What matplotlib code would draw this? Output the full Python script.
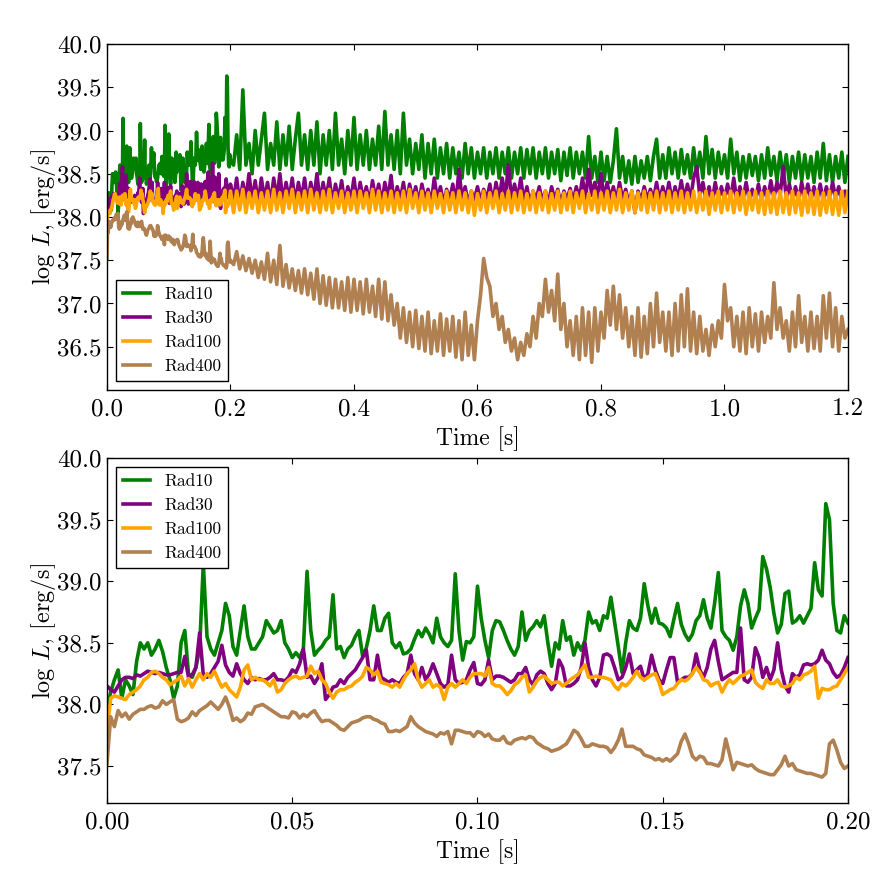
import numpy as np
import matplotlib
matplotlib.use("Agg")
import matplotlib.pyplot as plt

plt.rcParams['font.family'] = 'serif'
plt.rcParams['font.serif'] = ['cmr10']
plt.rcParams['mathtext.fontset'] = 'cm'
plt.rcParams['axes.formatter.use_mathtext'] = True
plt.rcParams['xtick.direction'] = 'in'
plt.rcParams['ytick.direction'] = 'in'
plt.rcParams['xtick.top'] = True
plt.rcParams['ytick.right'] = True
plt.rcParams['xtick.major.size'] = 4.5
plt.rcParams['ytick.major.size'] = 4.5
plt.rcParams['xtick.major.pad'] = 6
plt.rcParams['ytick.major.pad'] = 4

labels = ['Rad10', 'Rad30', 'Rad100', 'Rad400']
colors = ['green', 'purple', 'orange', '#b08050']

# first 0.2 s, sampled every 1 ms
green_fine = [
    37.95, 38.1, 38.2, 38.28, 38.05, 38.2, 38.15, 38.08, 38.35, 38.5,
    38.45, 38.5, 38.4, 38.45, 38.52, 38.43, 38.3, 38.2, 38.05, 38.15,
    38.5, 38.6, 38.25, 38.22, 38.3, 38.45, 39.14, 38.55, 38.45, 38.4,
    38.5, 38.6, 38.82, 38.72, 38.47, 38.4, 38.6, 38.8, 38.55, 38.45,
    38.45, 38.5, 38.55, 38.68, 38.63, 38.58, 38.6, 38.68, 38.5, 38.45,
    38.38, 38.42, 38.38, 38.45, 39.08, 38.6, 38.4, 38.44, 38.47, 38.52,
    38.55, 38.89, 38.45, 38.47, 38.38, 38.45, 38.48, 38.55, 38.6, 38.39,
    38.46, 38.6, 38.8, 38.6, 38.6, 38.7, 38.74, 38.5, 38.46, 38.5,
    38.41, 38.42, 38.45, 38.53, 38.6, 38.55, 38.62, 38.57, 38.5, 38.7,
    38.55, 38.5, 38.47, 38.52, 39.06, 38.6, 38.36, 38.51, 38.5, 38.55,
    38.96, 38.7, 38.52, 38.38, 38.6, 38.68, 38.67, 38.6, 38.52, 38.45,
    38.4, 38.47, 38.75, 38.52, 38.6, 38.63, 38.68, 38.63, 38.72, 38.5,
    38.31, 38.5, 38.45, 38.68, 38.52, 38.55, 38.4, 38.5, 38.44, 38.52,
    38.75, 38.66, 38.68, 38.6, 38.72, 38.7, 38.87, 38.67, 38.47, 38.26,
    38.5, 38.68, 38.62, 38.6, 38.7, 38.98, 38.8, 38.66, 38.78, 38.66,
    38.65, 38.62, 38.55, 38.69, 38.82, 38.65, 38.57, 38.52, 38.57, 38.68,
    38.72, 38.85, 38.7, 38.62, 38.82, 39.07, 38.6, 38.55, 38.52, 38.44,
    38.55, 38.8, 38.93, 38.82, 38.62, 38.7, 38.77, 39.2, 39.1, 38.95,
    38.74, 38.58, 38.65, 38.9, 38.92, 38.66, 38.68, 38.72, 38.66, 38.72,
    38.78, 39.15, 38.93, 38.88, 39.63, 39.5, 38.82, 38.6, 38.58, 38.72,
    38.66]
purple_fine = [
    38.15, 38.12, 38.1, 38.15, 38.2, 38.22, 38.22, 38.21, 38.24, 38.23,
    38.25, 38.27, 38.26, 38.25, 38.26, 38.25, 38.24, 38.24, 38.25, 38.26,
    38.26, 38.39, 38.22, 38.24, 38.3, 38.58, 38.24, 38.22, 38.25, 38.3,
    38.35, 38.48, 38.32, 38.26, 38.23, 38.33, 38.25, 38.2, 38.17, 38.22,
    38.2, 38.21, 38.2, 38.2, 38.22, 38.25, 38.2, 38.2, 38.19, 38.22,
    38.28, 38.26, 38.33, 38.45, 38.22, 38.23, 38.17, 38.22, 38.33, 38.04,
    38.08, 38.14, 38.15, 38.2, 38.17, 38.22, 38.25, 38.28, 38.33, 38.38,
    38.44, 38.2, 38.2, 38.4, 38.22, 38.2, 38.18, 38.2, 38.18, 38.17,
    38.22, 38.25, 38.4, 38.25, 38.2, 38.3, 38.2, 38.25, 38.33, 38.25,
    38.17, 38.14, 38.16, 38.4, 38.2, 38.17, 38.18, 38.2, 38.28, 38.34,
    38.17, 38.16, 38.2, 38.36, 38.2, 38.23, 38.23, 38.22, 38.2, 38.18,
    38.2, 38.25, 38.25, 38.3, 38.2, 38.16, 38.24, 38.27, 38.25, 38.17,
    38.12, 38.17, 38.36, 38.3, 38.15, 38.15, 38.17, 38.2, 38.3, 38.5,
    38.3, 38.2, 38.15, 38.22, 38.4, 38.41, 38.39, 38.3, 38.2, 38.22,
    38.3, 38.41, 38.25, 38.28, 38.31, 38.2, 38.25, 38.4, 38.28, 38.2,
    38.17, 38.28, 38.38, 38.38, 38.18, 38.2, 38.22, 38.22, 38.25, 38.41,
    38.28, 38.22, 38.3, 38.45, 38.52, 38.35, 38.2, 38.22, 38.24, 38.26,
    38.26, 38.62, 38.2, 38.18, 38.22, 38.46, 38.38, 38.22, 38.3, 38.2,
    38.28, 38.5, 38.28, 38.15, 38.1, 38.25, 38.22, 38.24, 38.32, 38.33,
    38.32, 38.33, 38.36, 38.44, 38.36, 38.33, 38.26, 38.22, 38.24, 38.3,
    38.38]
orange_fine = [
    37.78, 38.05, 38.07, 38.06, 38.05, 38.04, 38.08, 38.1, 38.12, 38.15,
    38.2, 38.22, 38.26, 38.27, 38.25, 38.22, 38.2, 38.16, 38.18, 38.2,
    38.23, 38.15, 38.21, 38.14, 38.2, 38.25, 38.2, 38.25, 38.22, 38.27,
    38.2, 38.14, 38.17, 38.12, 38.09, 38.06, 38.14, 38.28, 38.32, 38.2,
    38.22, 38.2, 38.2, 38.18, 38.15, 38.2, 38.1, 38.12, 38.17, 38.2,
    38.22, 38.23, 38.21, 38.22, 38.23, 38.31, 38.25, 38.27, 38.2, 38.17,
    38.1, 38.05, 38.1, 38.12, 38.12, 38.14, 38.15, 38.18, 38.2, 38.23,
    38.3, 38.28, 38.24, 38.27, 38.18, 38.17, 38.16, 38.14, 38.17, 38.14,
    38.2, 38.25, 38.28, 38.33, 38.2, 38.14, 38.17, 38.2, 38.14, 38.16,
    38.14, 38.04, 38.14, 38.17, 38.14, 38.17, 38.2, 38.17, 38.22, 38.25,
    38.25, 38.25, 38.23, 38.3, 38.17, 38.15, 38.15, 38.12, 38.08, 38.11,
    38.16, 38.18, 38.22, 38.24, 38.1, 38.14, 38.19, 38.22, 38.23, 38.2,
    38.17, 38.18, 38.18, 38.15, 38.17, 38.2, 38.22, 38.24, 38.28, 38.32,
    38.22, 38.22, 38.23, 38.22, 38.22, 38.21, 38.2, 38.15, 38.12, 38.17,
    38.15, 38.18, 38.22, 38.27, 38.22, 38.2, 38.22, 38.24, 38.25, 38.18,
    38.08, 38.1, 38.12, 38.13, 38.17, 38.2, 38.19, 38.21, 38.25, 38.3,
    38.26, 38.2, 38.19, 38.15, 38.17, 38.18, 38.1, 38.16, 38.2, 38.17,
    38.2, 38.23, 38.24, 38.26, 38.28, 38.18, 38.15, 38.13, 38.2, 38.17,
    38.17, 38.2, 38.15, 38.14, 38.15, 38.17, 38.22, 38.2, 38.24, 38.25,
    38.27, 38.31, 38.05, 38.13, 38.12, 38.12, 38.14, 38.15, 38.2, 38.25,
    38.3]
brown_fine = [
    37.52, 37.9, 37.82, 37.95, 37.9, 37.93, 37.88, 37.92, 37.94, 37.96,
    37.96, 37.98, 37.99, 37.97, 37.98, 38.03, 38.0, 38.02, 38.04, 37.88,
    37.86, 37.87, 37.89, 37.94, 37.91, 37.95, 37.97, 37.99, 38.02, 37.99,
    37.96, 38.0, 38.06, 37.98, 37.87, 37.89, 37.86, 37.88, 37.93, 37.92,
    37.98, 37.99, 38.0, 37.98, 37.96, 37.94, 37.92, 37.9, 37.9, 37.89,
    37.94, 37.93, 37.89, 37.92, 37.9, 37.93, 37.95, 37.9, 37.86, 37.87,
    37.87, 37.85, 37.83, 37.8, 37.79, 37.82, 37.85, 37.86, 37.87, 37.89,
    37.9, 37.9, 37.88, 37.87, 37.85, 37.84, 37.78, 37.78, 37.79, 37.78,
    37.8, 37.82, 37.9, 37.85, 37.82, 37.8, 37.78, 37.77, 37.76, 37.74,
    37.77, 37.76, 37.78, 37.68, 37.79, 37.79, 37.78, 37.77, 37.77, 37.74,
    37.78, 37.77, 37.74, 37.76, 37.72, 37.71, 37.71, 37.74, 37.69, 37.68,
    37.71, 37.72, 37.73, 37.72, 37.74, 37.73, 37.69, 37.67, 37.65, 37.64,
    37.62, 37.63, 37.64, 37.66, 37.68, 37.73, 37.79, 37.77, 37.72, 37.66,
    37.66, 37.68, 37.67, 37.66, 37.66, 37.65, 37.61, 37.65, 37.71, 37.8,
    37.66, 37.66, 37.66, 37.64, 37.63, 37.59, 37.58, 37.57, 37.55, 37.56,
    37.54, 37.56, 37.54, 37.57, 37.6, 37.7, 37.76, 37.68, 37.58, 37.55,
    37.58, 37.57, 37.52, 37.52, 37.51, 37.5, 37.55, 37.72, 37.6, 37.47,
    37.53, 37.52, 37.51, 37.5, 37.51, 37.48, 37.46, 37.45, 37.44, 37.43,
    37.43, 37.47, 37.51, 37.58, 37.5, 37.52, 37.47, 37.46, 37.45, 37.44,
    37.44, 37.43, 37.42, 37.41, 37.44, 37.68, 37.71, 37.63, 37.53, 37.48,
    37.5]

# 0.205 s to 1.2 s, sampled every 5 ms
green_coarse = [
    38.6, 38.95, 38.55, 39.47, 38.6, 38.85, 38.5, 39.0, 38.6, 38.9,
    39.2, 38.55, 38.85, 38.6, 39.1, 38.55, 38.95, 38.6, 39.05, 38.55,
    38.9, 39.2, 38.6, 38.95, 38.55, 39.0, 38.6, 39.1, 38.5, 38.95,
    38.6, 39.0, 38.55, 39.2, 38.6, 38.9, 38.5, 39.0, 38.6, 39.15,
    38.55, 38.95, 38.6, 39.0, 38.55, 38.9, 38.6, 39.05, 38.55, 39.22,
    38.6, 38.95, 38.55, 39.0, 38.5, 39.2, 38.6, 38.9, 38.5, 38.85,
    38.55, 38.95, 38.45, 38.85, 38.5, 38.9, 38.45, 38.8, 38.5, 38.85,
    38.45, 38.8, 38.5, 38.75, 38.45, 38.85, 38.5, 38.8, 38.45, 38.75,
    38.5, 38.8, 38.45, 38.75, 38.5, 38.8, 38.45, 38.75, 38.5, 38.8,
    38.45, 38.75, 38.5, 38.8, 38.45, 38.78, 38.5, 38.8, 38.45, 38.75,
    38.5, 38.8, 38.45, 38.75, 38.5, 38.78, 38.42, 38.75, 38.48, 38.8,
    38.45, 38.75, 38.5, 38.75, 38.45, 38.93, 38.45, 38.7, 38.4, 38.75,
    38.42, 38.7, 38.4, 38.65, 39.02, 38.45, 38.7, 38.4, 38.65, 38.38,
    38.7, 38.4, 38.65, 38.45, 38.7, 38.42, 38.7, 38.9, 38.45, 38.72,
    38.45, 38.8, 38.5, 38.75, 38.45, 38.78, 38.5, 38.72, 38.45, 38.8,
    38.5, 38.75, 38.45, 38.93, 38.5, 38.78, 38.45, 38.75, 38.5, 38.72,
    38.45, 38.9, 38.5, 38.75, 38.42, 38.7, 38.45, 38.72, 38.48, 38.7,
    38.42, 38.72, 38.45, 38.8, 38.48, 38.7, 38.42, 38.75, 38.45, 38.72,
    38.4, 38.7, 38.45, 38.75, 38.42, 38.72, 38.45, 38.7, 38.4, 38.75,
    38.45, 38.85, 38.42, 38.72, 38.4, 38.7, 38.45, 38.75, 38.4, 38.7]
purple_coarse = [
    38.2, 38.45, 38.15, 38.4, 38.2, 38.5, 38.18, 38.42, 38.15, 38.45,
    38.2, 38.4, 38.15, 38.45, 38.2, 38.5, 38.17, 38.4, 38.2, 38.45,
    38.15, 38.4, 38.2, 38.45, 38.15, 38.4, 38.2, 38.5, 38.17, 38.4,
    38.2, 38.45, 38.15, 38.38, 38.2, 38.42, 38.15, 38.35, 38.2, 38.45,
    38.15, 38.4, 38.2, 38.35, 38.15, 38.42, 38.2, 38.38, 38.15, 38.4,
    38.2, 38.48, 38.15, 38.35, 38.2, 38.4, 38.15, 38.38, 38.2, 38.35,
    38.15, 38.38, 38.2, 38.32, 38.15, 38.45, 38.2, 38.35, 38.15, 38.32,
    38.2, 38.38, 38.15, 38.55, 38.2, 38.35, 38.15, 38.3, 38.2, 38.35,
    38.18, 38.32, 38.2, 38.38, 38.15, 38.4, 38.2, 38.45, 38.22, 38.6,
    38.2, 38.38, 38.2, 38.45, 38.18, 38.35, 38.15, 38.3, 38.2, 38.35,
    38.18, 38.3, 38.15, 38.35, 38.2, 38.32, 38.15, 38.3, 38.2, 38.33,
    38.18, 38.35, 38.2, 38.45, 38.2, 38.55, 38.25, 38.4, 38.22, 38.5,
    38.2, 38.4, 38.2, 38.35, 38.18, 38.4, 38.2, 38.32, 38.15, 38.3,
    38.05, 38.3, 38.18, 38.35, 38.2, 38.32, 38.2, 38.4, 38.18, 38.35,
    38.2, 38.4, 38.18, 38.35, 38.2, 38.42, 38.2, 38.38, 38.2, 38.45,
    38.58, 38.25, 38.4, 38.2, 38.35, 38.18, 38.4, 38.2, 38.35, 38.2,
    38.38, 38.2, 38.45, 38.18, 38.35, 38.2, 38.4, 38.2, 38.32, 38.2,
    38.38, 38.18, 38.35, 38.2, 38.42, 38.22, 38.4, 38.25, 38.58, 38.22,
    38.38, 38.2, 38.35, 38.18, 38.4, 38.22, 38.38, 38.2, 38.35, 38.2,
    38.38, 38.18, 38.35, 38.2, 38.4, 38.22, 38.35, 38.18, 38.3, 38.2]
orange_coarse = [
    38.05, 38.3, 38.08, 38.32, 38.05, 38.28, 38.1, 38.3, 38.05, 38.28,
    38.08, 38.3, 38.05, 38.32, 38.08, 38.28, 38.05, 38.3, 38.1, 38.32,
    38.05, 38.28, 38.08, 38.3, 38.05, 38.32, 38.08, 38.28, 38.05, 38.3,
    38.08, 38.32, 38.05, 38.28, 38.1, 38.3, 38.05, 38.28, 38.08, 38.3,
    38.05, 38.3, 38.1, 38.28, 38.05, 38.32, 38.08, 38.3, 38.05, 38.28,
    38.08, 38.3, 38.05, 38.28, 38.08, 38.3, 38.05, 38.32, 38.1, 38.28,
    38.05, 38.3, 38.08, 38.28, 38.05, 38.3, 38.1, 38.27, 38.05, 38.3,
    38.08, 38.28, 38.05, 38.3, 38.08, 38.28, 38.05, 38.3, 38.02, 38.27,
    38.08, 38.3, 38.05, 38.28, 38.1, 38.3, 38.05, 38.27, 38.08, 38.3,
    38.05, 38.28, 38.08, 38.3, 38.05, 38.27, 38.08, 38.3, 38.05, 38.28,
    38.08, 38.3, 38.05, 38.27, 38.08, 38.3, 38.05, 38.28, 38.08, 38.3,
    38.05, 38.28, 38.1, 38.3, 38.05, 38.27, 38.08, 38.3, 38.05, 38.28,
    38.08, 38.3, 38.05, 38.28, 38.08, 38.32, 38.05, 38.28, 38.08, 38.3,
    38.05, 38.28, 38.08, 38.3, 38.05, 38.28, 38.08, 38.3, 38.05, 38.28,
    38.08, 38.3, 38.05, 38.28, 38.08, 38.3, 38.05, 38.28, 38.08, 38.3,
    38.05, 38.28, 38.08, 38.3, 38.03, 38.28, 38.08, 38.3, 38.05, 38.28,
    38.08, 38.3, 38.05, 38.28, 38.08, 38.3, 38.03, 38.28, 38.08, 38.3,
    38.05, 38.28, 38.03, 38.3, 38.05, 38.28, 38.03, 38.3, 38.05, 38.28,
    38.03, 38.3, 38.05, 38.28, 38.02, 38.3, 38.05, 38.28, 38.03, 38.3,
    38.02, 38.28, 38.05, 38.3, 38.03, 38.28, 38.02, 38.3, 38.05, 38.3]
brown_coarse = [
    37.45, 37.6, 37.4, 37.55, 37.38, 37.52, 37.35, 37.5, 37.3, 37.48,
    37.28, 37.58, 37.25, 37.5, 37.22, 37.67, 37.2, 37.45, 37.18, 37.4,
    37.15, 37.38, 37.12, 37.4, 37.1, 37.35, 37.05, 37.4, 37.0, 37.32,
    36.98, 37.3, 36.95, 37.28, 36.95, 37.25, 36.92, 37.3, 36.9, 37.28,
    36.92, 37.25, 36.88, 37.28, 36.9, 37.2, 36.85, 37.28, 36.82, 37.25,
    36.8, 37.1, 36.75, 37.0, 36.6, 36.95, 36.55, 36.9, 36.5, 36.92,
    36.48, 36.85, 36.45, 36.9, 36.42, 36.8, 36.45, 36.88, 36.4, 36.82,
    36.45, 36.85, 36.38, 36.8, 36.35, 36.9, 36.4, 36.75, 36.35, 36.8,
    37.1, 37.52, 37.3, 37.2, 36.85, 37.0, 36.7, 36.85, 36.55, 36.7,
    36.45, 36.6, 36.35, 36.55, 36.4, 36.65, 36.5, 36.85, 36.6, 37.0,
    36.85, 37.28, 36.9, 37.15, 36.8, 37.34, 36.7, 37.0, 36.5, 36.8,
    36.4, 36.85, 36.35, 36.95, 36.4, 36.9, 36.32, 36.95, 36.45, 36.9,
    36.6, 37.15, 36.75, 37.2, 36.7, 37.1, 36.6, 36.95, 36.5, 36.85,
    36.4, 36.95, 36.38, 36.85, 36.42, 37.0, 36.5, 37.12, 36.55, 36.9,
    36.45, 36.9, 36.4, 37.0, 36.45, 37.1, 36.5, 37.17, 36.45, 36.9,
    36.42, 36.85, 36.45, 36.7, 36.4, 36.75, 36.5, 36.8, 36.6, 37.22,
    36.8, 36.95, 36.5, 36.85, 36.45, 36.9, 36.42, 36.95, 36.5, 36.88,
    36.45, 36.9, 36.55, 36.85, 36.6, 37.24, 36.7, 36.95, 36.6, 36.8,
    36.45, 36.9, 36.5, 37.09, 36.55, 36.85, 36.45, 36.9, 36.48, 36.85,
    36.45, 37.09, 36.6, 37.12, 36.5, 36.95, 36.45, 36.85, 36.6, 36.7]

t_fine = np.arange(len(green_fine)) * 0.001
t_coarse = 0.205 + np.arange(len(green_coarse)) * 0.005
t_all = np.concatenate([t_fine, t_coarse])

fine = [green_fine, purple_fine, orange_fine, brown_fine]
coarse = [green_coarse, purple_coarse, orange_coarse, brown_coarse]

fig = plt.figure(figsize=(8.93, 8.93), dpi=100)
ax1 = fig.add_axes([0.1198, 0.5633, 0.8298, 0.3874])
ax2 = fig.add_axes([0.1198, 0.1008, 0.8298, 0.3863])
linew = 2.6

for f, c, lab, col in zip(fine, coarse, labels, colors):
    ax1.plot(t_all, np.concatenate([f, c]), color=col, lw=linew, label=lab)
    ax2.plot(t_fine, f, color=col, lw=linew, label=lab)

ax1.set_xlim(0, 1.2)
ax1.set_ylim(36.0, 40.0)
ax1.set_xticks([0.0, 0.2, 0.4, 0.6, 0.8, 1.0, 1.2])
ax1.set_yticks([36.5, 37.0, 37.5, 38.0, 38.5, 39.0, 39.5, 40.0])
ax1.xaxis.set_major_formatter(matplotlib.ticker.FormatStrFormatter('%.1f'))
ax1.yaxis.set_major_formatter(matplotlib.ticker.FormatStrFormatter('%.1f'))

ax2.set_xlim(0, 0.2)
ax2.set_ylim(37.2, 40.0)
ax2.set_xticks([0.0, 0.05, 0.10, 0.15, 0.20])
ax2.set_yticks([37.5, 38.0, 38.5, 39.0, 39.5, 40.0])
ax2.xaxis.set_major_formatter(matplotlib.ticker.FormatStrFormatter('%.2f'))
ax2.yaxis.set_major_formatter(matplotlib.ticker.FormatStrFormatter('%.1f'))

for ax, loc in [(ax1, 'lower left'), (ax2, 'upper left')]:
    ax.set_xlabel('Time [s]', fontsize=17)
    ax.set_ylabel(r'$\log\,L$, [erg/s]', fontsize=17.5, labelpad=-1)
    ax.tick_params(labelsize=18)
    leg = ax.legend(loc=loc, fontsize=12.5, handlelength=1.6, fancybox=False,
                    framealpha=1, borderaxespad=0.5)
    leg.get_frame().set_edgecolor('black')
    for sp in ax.spines.values():
        sp.set_linewidth(1.0)

plt.savefig('out.png', dpi=100)
